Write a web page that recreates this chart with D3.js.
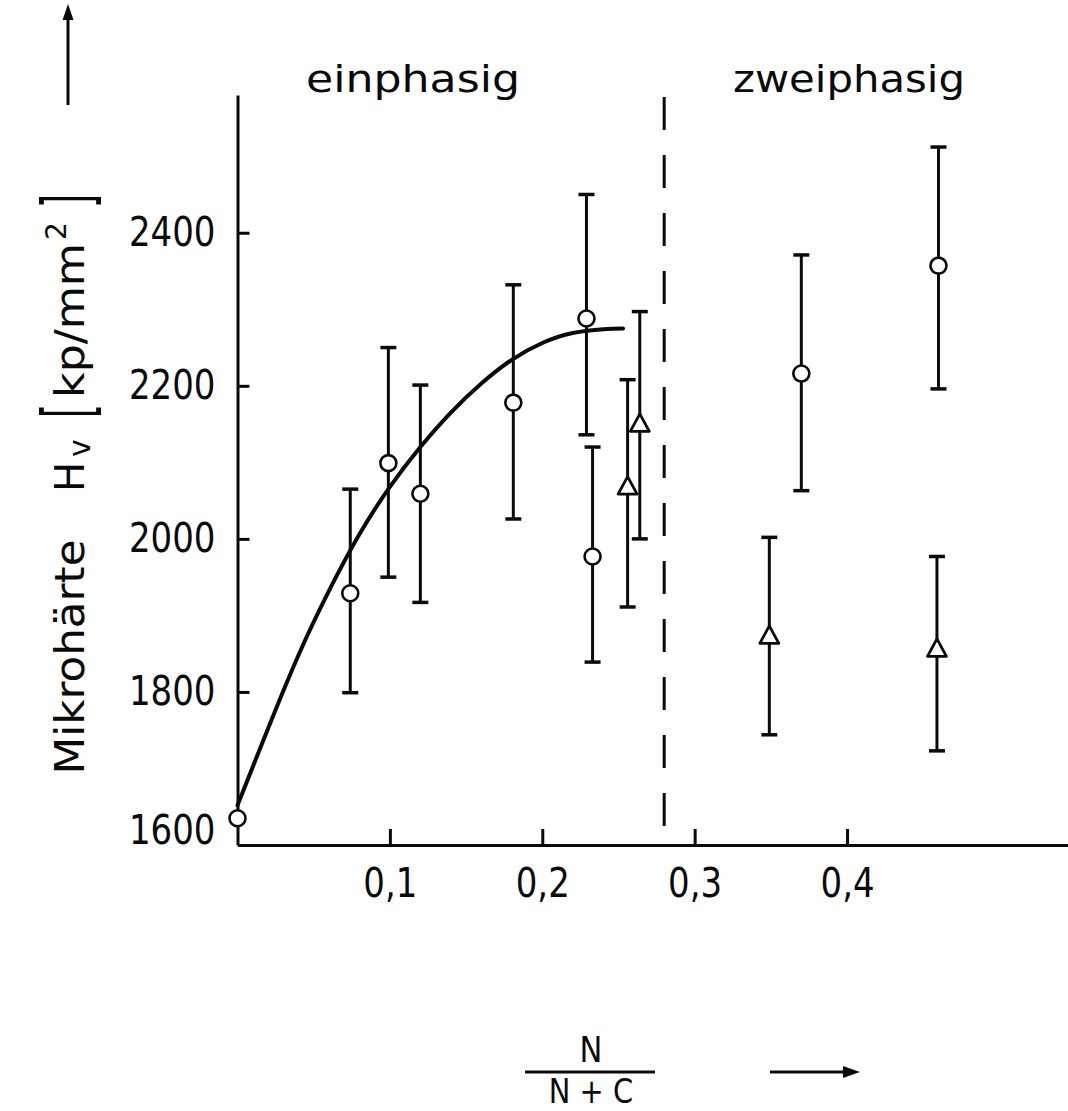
<!DOCTYPE html>
<html><head><meta charset="utf-8">
<script src="https://cdn.jsdelivr.net/npm/d3@7"></script>
<style>
body{margin:0;background:#fff}
text{font-family:"DejaVu Sans",sans-serif;fill:#0a0a0a}
</style>
</head><body>
<svg id="c" width="1068" height="1111"></svg>
<script>
// ---- data ----
const xTicks = [0.1, 0.2, 0.3, 0.4];
const xTickLabels = ["0,1", "0,2", "0,3", "0,4"];
const yTicks = [1600, 1800, 2000, 2200, 2400];
const yTickLabels = ["1600", "1800", "2000", "2200", "2400"];

// circles (mean, lower, upper)
const circleX    = [0,    0.074, 0.099, 0.12, 0.181, 0.229, 0.233, 0.37, 0.46];
const circleY    = [1635, 1929,  2099,  2059, 2178,  2288,  1977,  2216, 2357];
const circleLow  = [null, 1799,  1950,  1917, 2026,  2136,  1839,  2063, 2196];
const circleHigh = [null, 2065,  2250,  2201, 2332,  2450,  2120,  2371, 2512];

// triangles
const triX    = [0.256, 0.264, 0.349, 0.459];
const triY    = [2067,  2149,  1872,  1855];
const triLow  = [1911,  2000,  1744,  1723];
const triHigh = [2208,  2297,  2002,  1977];

// fitted curve
const curveX = [0,    0.02, 0.04, 0.06, 0.08, 0.10, 0.12, 0.14, 0.16, 0.18, 0.20, 0.22, 0.24, 0.253];
const curveY = [1652, 1752, 1848, 1932, 2006, 2068, 2120, 2165, 2203, 2234, 2256, 2269, 2274, 2275];

const phaseBoundary = 0.28;
const regionLabels = ["einphasig", "zweiphasig"];
const yLabelMain = "Mikrohärte";
const xLabelNum = "N", xLabelDen = "N + C";

// ---- drawing ----
const ink = "#0a0a0a";
const svg = d3.select("#c");
const x = d3.scaleLinear().domain([0, 0.545]).range([237.5, 1068]);
const y = d3.scaleLinear().domain([1600, 2580]).range([845, 95]);
const SX = 0.85;

// phase boundary (dashed)
svg.append("line")
  .attr("x1", x(phaseBoundary)).attr("x2", x(phaseBoundary))
  .attr("y1", y(2580) + 2).attr("y2", y(1600))
  .attr("stroke", ink).attr("stroke-width", 3).attr("stroke-dasharray", "33 25");

// x axis
const gx = svg.append("g").attr("transform", `translate(0,${y(1600)})`)
  .call(d3.axisBottom(x).tickValues(xTicks).tickFormat((d, i) => xTickLabels[i])
    .tickSize(-16).tickPadding(24).tickSizeOuter(0));
// y axis
const gy = svg.append("g").attr("transform", `translate(${x(0)},0)`)
  .call(d3.axisLeft(y).tickValues(yTicks).tickFormat((d, i) => yTickLabels[i])
    .tickSize(-12).tickPadding(22).tickSizeOuter(0));

[gx, gy].forEach(g => {
  g.select(".domain").attr("stroke", ink).attr("stroke-width", 3);
  g.selectAll(".tick line").attr("stroke", ink).attr("stroke-width", 3);
  g.selectAll(".tick text").attr("font-family", '"DejaVu Sans",sans-serif')
    .attr("font-size", 40).attr("fill", ink);
});
gx.selectAll(".tick text").attr("transform", `scale(${SX},1)`);
gy.selectAll(".tick text").attr("x", -22 / SX).attr("transform", `scale(${SX},1)`);
gy.selectAll(".tick").filter(d => d === 1600).select("line").remove();
gy.selectAll(".tick").filter(d => d === 1600).select("text").attr("y", -14);

// curve
svg.append("path")
  .datum(curveX.map((d, i) => [d, curveY[i]]))
  .attr("d", d3.line().x(d => x(d[0])).y(d => y(d[1])).curve(d3.curveNatural))
  .attr("fill", "none").attr("stroke", ink).attr("stroke-width", 4).attr("stroke-linecap", "round");

// error bars
function errorBars(xs, lo, hi) {
  const g = svg.append("g").attr("stroke", ink);
  xs.forEach((xv, i) => {
    if (lo[i] == null) return;
    const px = x(xv);
    g.append("line").attr("x1", px).attr("x2", px).attr("y1", y(lo[i])).attr("y2", y(hi[i])).attr("stroke-width", 3);
    [lo[i], hi[i]].forEach(v => g.append("line")
      .attr("x1", px - 8).attr("x2", px + 8).attr("y1", y(v)).attr("y2", y(v)).attr("stroke-width", 3.5));
  });
}
errorBars(circleX, circleLow, circleHigh);
errorBars(triX, triLow, triHigh);

// circle markers
svg.append("g").selectAll("circle").data(circleX).join("circle")
  .attr("cx", d => x(d)).attr("cy", (d, i) => y(circleY[i])).attr("r", 8)
  .attr("fill", "#fff").attr("stroke", ink).attr("stroke-width", 2.6);

// triangle markers
svg.append("g").selectAll("path").data(triX).join("path")
  .attr("transform", (d, i) => `translate(${x(d)},${y(triY[i])})`)
  .attr("d", "M0,-11L9.5,6.5L-9.5,6.5Z")
  .attr("fill", "#fff").attr("stroke", ink).attr("stroke-width", 2.8).attr("stroke-linejoin", "round");

// region labels
svg.append("text").attr("x", 413).attr("y", 92).attr("text-anchor", "middle")
  .attr("font-size", 38).attr("textLength", 214).attr("lengthAdjust", "spacingAndGlyphs").text(regionLabels[0]);
svg.append("text").attr("x", 849).attr("y", 92).attr("text-anchor", "middle")
  .attr("font-size", 38).attr("textLength", 232).attr("lengthAdjust", "spacingAndGlyphs").text(regionLabels[1]);

// y label (rotated)
svg.append("text").attr("transform", "translate(84,657) rotate(-90)").attr("text-anchor", "middle")
  .attr("font-size", 40).attr("textLength", 235).attr("lengthAdjust", "spacingAndGlyphs").text(yLabelMain);
const hv = svg.append("text").attr("transform", "translate(84,492) rotate(-90)").attr("font-size", 40);
hv.append("tspan").text("H");
hv.append("tspan").attr("dx", 5).attr("dy", 6).attr("font-size", 30).text("v");
svg.append("text").attr("transform", "translate(92,418) rotate(-90)").attr("font-size", 70)
  .attr("textLength", 14).attr("lengthAdjust", "spacingAndGlyphs").text("[");
svg.append("text").attr("transform", "translate(84,398) rotate(-90)").attr("font-size", 40)
  .attr("textLength", 155).attr("lengthAdjust", "spacingAndGlyphs").text("kp/mm");
svg.append("text").attr("transform", "translate(66,240) rotate(-90)").attr("font-size", 28).text("2");
svg.append("text").attr("transform", "translate(92,208) rotate(-90)").attr("font-size", 70)
  .attr("textLength", 14).attr("lengthAdjust", "spacingAndGlyphs").text("]");
// y arrow
svg.append("line").attr("x1", 68).attr("x2", 68).attr("y1", 105).attr("y2", 18).attr("stroke", ink).attr("stroke-width", 3);
svg.append("path").attr("d", "M68,4L62.5,20L73.5,20Z").attr("fill", ink);

// x label fraction
svg.append("text").attr("x", 591).attr("y", 1062).attr("text-anchor", "middle").attr("font-size", 36)
  .attr("transform", `translate(${591 * (1 - SX)},0) scale(${SX},1)`).text(xLabelNum);
svg.append("line").attr("x1", 525).attr("x2", 655).attr("y1", 1072).attr("y2", 1072).attr("stroke", ink).attr("stroke-width", 3);
svg.append("text").attr("x", 591).attr("y", 1103).attr("text-anchor", "middle").attr("font-size", 34)
  .attr("transform", `translate(${591 * (1 - SX)},0) scale(${SX},1)`).text(xLabelDen);
svg.append("line").attr("x1", 770).attr("x2", 846).attr("y1", 1072).attr("y2", 1072).attr("stroke", ink).attr("stroke-width", 3);
svg.append("path").attr("d", "M860,1072L843,1066L843,1078Z").attr("fill", ink);
</script>
</body></html>
